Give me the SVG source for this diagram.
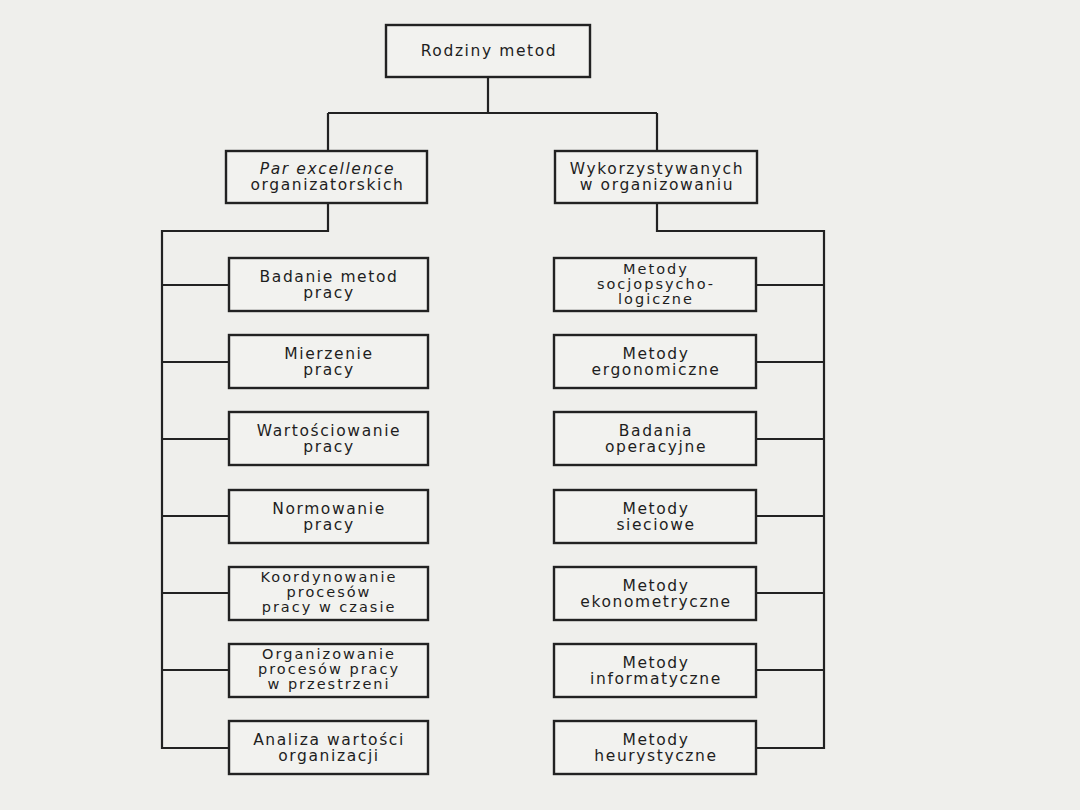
<svg xmlns="http://www.w3.org/2000/svg" width="1080" height="810" viewBox="0 0 1080 810">
<style>
.bg{fill:#efefec}
.box{fill:#f2f2ef;stroke:#222;stroke-width:2.4}
.ln{fill:none;stroke:#222;stroke-width:2.2}
text{font-family:"DejaVu Sans","Liberation Sans",sans-serif;font-size:15.5px;fill:#1e1e1e;text-anchor:middle;letter-spacing:1.6px}
text.s{font-size:14.5px;letter-spacing:2px}
.it{font-style:italic}
</style>
<rect class="bg" x="0" y="0" width="1080" height="810"/>
<g id="connectors">
<path class="ln" d="M488,77 V113 M328,113 H657 M328,113 V151 M657,113 V151"/>
<path class="ln" d="M328,203 V231 H162 V748 H229 M162,285 H229 M162,362 H229 M162,439 H229 M162,516 H229 M162,593 H229 M162,670 H229"/>
<path class="ln" d="M657,203 V231 H824 V748 H756 M824,285 H756 M824,362 H756 M824,439 H756 M824,516 H756 M824,593 H756 M824,670 H756"/>
</g>
<g id="n_root"><rect class="box" x="386" y="25" width="204" height="52"/><text x="489" y="56">Rodziny metod</text></g>
<g id="n_par"><rect class="box" x="226" y="151" width="201" height="52"/><text x="327.5" y="174"><tspan class="it">Par excellence</tspan></text><text x="327.5" y="190">organizatorskich</text></g>
<g id="n_wyk"><rect class="box" x="555" y="151" width="202" height="52"/><text x="657" y="174">Wykorzystywanych</text><text x="657" y="190">w organizowaniu</text></g>

<g id="n_l1"><rect class="box" x="229" y="258" width="199" height="53"/><text x="329" y="282">Badanie metod</text><text x="329" y="298">pracy</text></g>
<g id="n_l2"><rect class="box" x="229" y="335" width="199" height="53"/><text x="329" y="359">Mierzenie</text><text x="329" y="375">pracy</text></g>
<g id="n_l3"><rect class="box" x="229" y="412" width="199" height="53"/><text x="329" y="436">Wartościowanie</text><text x="329" y="452">pracy</text></g>
<g id="n_l4"><rect class="box" x="229" y="490" width="199" height="53"/><text x="329" y="514">Normowanie</text><text x="329" y="530">pracy</text></g>
<g id="n_l5"><rect class="box" x="229" y="567" width="199" height="53"/><text class="s" x="329" y="582">Koordynowanie</text><text class="s" x="329" y="597">procesów</text><text class="s" x="329" y="612">pracy w czasie</text></g>
<g id="n_l6"><rect class="box" x="229" y="644" width="199" height="53"/><text class="s" x="329" y="659">Organizowanie</text><text class="s" x="329" y="674">procesów pracy</text><text class="s" x="329" y="689">w przestrzeni</text></g>
<g id="n_l7"><rect class="box" x="229" y="721" width="199" height="53"/><text x="329" y="745">Analiza wartości</text><text x="329" y="761">organizacji</text></g>

<g id="n_r1"><rect class="box" x="554" y="258" width="202" height="53"/><text class="s" x="656" y="274">Metody</text><text class="s" x="656" y="289">socjopsycho-</text><text class="s" x="656" y="304">logiczne</text></g>
<g id="n_r2"><rect class="box" x="554" y="335" width="202" height="53"/><text x="656" y="359">Metody</text><text x="656" y="375">ergonomiczne</text></g>
<g id="n_r3"><rect class="box" x="554" y="412" width="202" height="53"/><text x="656" y="436">Badania</text><text x="656" y="452">operacyjne</text></g>
<g id="n_r4"><rect class="box" x="554" y="490" width="202" height="53"/><text x="656" y="514">Metody</text><text x="656" y="530">sieciowe</text></g>
<g id="n_r5"><rect class="box" x="554" y="567" width="202" height="53"/><text x="656" y="591">Metody</text><text x="656" y="607">ekonometryczne</text></g>
<g id="n_r6"><rect class="box" x="554" y="644" width="202" height="53"/><text x="656" y="668">Metody</text><text x="656" y="684">informatyczne</text></g>
<g id="n_r7"><rect class="box" x="554" y="721" width="202" height="53"/><text x="656" y="745">Metody</text><text x="656" y="761">heurystyczne</text></g>
</svg>
